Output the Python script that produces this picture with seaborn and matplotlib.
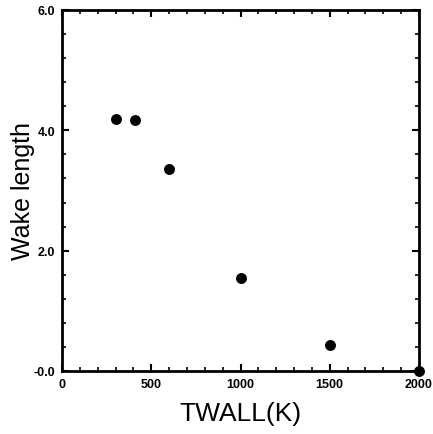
import numpy as np
import pandas as pd
import matplotlib
matplotlib.use('Agg')
import matplotlib.pyplot as plt
import seaborn as sns
from matplotlib.ticker import MultipleLocator

# Data
twall = [300, 410, 600, 1000, 1500, 2000]
wake_length = [4.19, 4.17, 3.35, 1.55, 0.43, 0.0]
ytick_vals = [0, 2, 4, 6]
ytick_labels = ['-0.0', '2.0', '4.0', '6.0']

df = pd.DataFrame({'TWALL': twall, 'wake': wake_length})

sns.set_style('ticks')
plt.rcParams['font.family'] = ['Liberation Sans', 'DejaVu Sans']
plt.rcParams['text.color'] = 'black'
plt.rcParams['axes.labelcolor'] = 'black'
plt.rcParams['xtick.color'] = 'black'
plt.rcParams['ytick.color'] = 'black'

fig = plt.figure(figsize=(4.33, 4.35), dpi=100)
ax = fig.add_axes([62 / 433, 1 - 372 / 435, 357 / 433, 361 / 435])

sns.scatterplot(data=df, x='TWALL', y='wake', ax=ax, color='black',
                s=62, edgecolor='black', linewidth=0, clip_on=False, zorder=5)

ax.set_xlim(0, 2000)
ax.set_ylim(0, 6)
ax.xaxis.set_major_locator(MultipleLocator(500))
ax.xaxis.set_minor_locator(MultipleLocator(100))
ax.set_yticks(ytick_vals)
ax.set_yticklabels(ytick_labels)
ax.yaxis.set_minor_locator(MultipleLocator(0.4))

for s in ax.spines.values():
    s.set_linewidth(2)
    s.set_color('black')

ax.tick_params(which='both', direction='in', top=True, right=True)
ax.tick_params(which='major', length=5, width=1.5, labelsize=9, pad=5)
ax.tick_params(which='minor', length=3, width=1.2)
for lab in ax.get_xticklabels() + ax.get_yticklabels():
    lab.set_fontweight('bold')

ax.set_xlabel('TWALL(K)', fontsize=19, labelpad=8)
ax.set_ylabel('Wake length', fontsize=18, labelpad=-1)

fig.savefig('out.png', dpi=100)
